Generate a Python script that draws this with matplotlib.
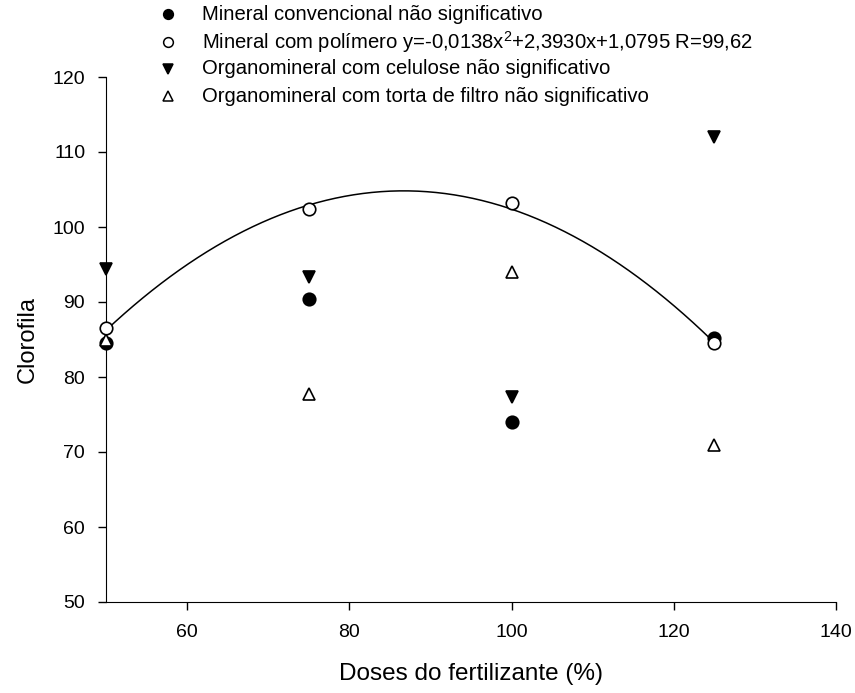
import matplotlib
matplotlib.use('Agg')
import matplotlib.pyplot as plt
from matplotlib.lines import Line2D
import numpy as np

plt.rcParams['font.family'] = ['Liberation Sans', 'DejaVu Sans']
plt.rcParams['mathtext.fontset'] = 'custom'
plt.rcParams['mathtext.rm'] = 'Liberation Sans'
plt.rcParams['mathtext.it'] = 'Liberation Sans:italic'

# doses (%)
doses = [50, 75, 100, 125]

# clorofila por tratamento
mineral_conv = [84.5, 90.4, 74.0, 85.2]
mineral_polimero = [86.6, 102.4, 103.2, 84.5]
organo_celulose = [94.4, 93.4, 77.4, 112.0]
organo_torta = [84.9, 77.7, 94.0, 70.9]

# regressão do mineral com polímero
coef = [-0.0138, 2.3930, 1.0795]

labels = [
    'Mineral convencional não significativo',
    'Mineral com polímero y=-0,0138x$^{2}$+2,3930x+1,0795 R=99,62',
    'Organomineral com celulose não significativo',
    'Organomineral com torta de filtro não significativo',
]

W, H = 855, 693
fig = plt.figure(figsize=(W / 100, H / 100), dpi=100)
ax = fig.add_axes([106 / W, 1 - 602 / H, 730 / W, 525 / H])

xs = np.linspace(doses[0], doses[-1], 200)
ax.plot(xs, np.polyval(coef, xs), color='black', lw=1.1, zorder=2)

ms = 9
kw = dict(linestyle='none', clip_on=False, zorder=3, markeredgewidth=1.2)
ax.plot(doses, organo_celulose, marker='v', color='black', ms=ms, **kw)
ax.plot(doses, mineral_conv, marker='o', color='black', ms=ms, **kw)
ax.plot(doses, organo_torta, marker='^', mfc='white', mec='black', ms=ms, **kw)
ax.plot(doses, mineral_polimero, marker='o', mfc='white', mec='black', ms=ms, **kw)

ax.set_xlim(50, 140)
ax.set_ylim(50, 120)
ax.set_xticks([60, 80, 100, 120, 140])
ax.set_yticks(range(50, 121, 10))
ax.spines['top'].set_visible(False)
ax.spines['right'].set_visible(False)
ax.tick_params(direction='out', length=6, width=1, labelsize=14, pad=10)
ax.tick_params(axis='y', pad=9)
ax.set_xlabel('Doses do fertilizante (%)', fontsize=17.5, labelpad=16)
ax.set_ylabel('Clorofila', fontsize=17, labelpad=10)

# legenda montada à mão acima do gráfico
markers = [
    dict(marker='o', color='black'),
    dict(marker='o', mfc='white', mec='black'),
    dict(marker='v', color='black'),
    dict(marker='^', mfc='white', mec='black'),
]
rows_y = [14, 42, 69, 96]
for lab, mk, y in zip(labels, markers, rows_y):
    fig.add_artist(Line2D([168 / W], [1 - y / H], transform=fig.transFigure,
                          linestyle='none', ms=7, markeredgewidth=1.1, **mk))
    fig.text(202 / W, 1 - y / H, lab, fontsize=14.6, va='center', ha='left')

fig.savefig('out.png', dpi=100)
